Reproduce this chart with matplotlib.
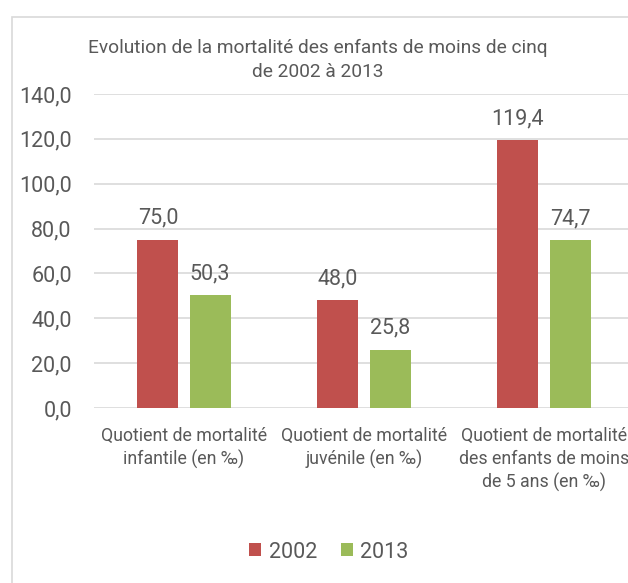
import matplotlib
matplotlib.use("Agg")
import matplotlib.pyplot as plt
from matplotlib.patches import Rectangle
import numpy as np

categories = ["Quotient de mortalité\ninfantile (en ‰)",
              "Quotient de mortalité\njuvénile (en ‰)",
              "Quotient de mortalité\ndes enfants de moins\nde 5 ans (en ‰)"]
series_names = ["2002", "2013"]
values_2002 = [75.0, 48.0, 119.4]
values_2013 = [50.3, 25.8, 74.7]
yticks = [0, 20, 40, 60, 80, 100, 120, 140]
title = "Evolution de la mortalité des enfants de moins de cinq\nde 2002 à 2013"

colors = ["#C0504D", "#9BBB59"]
txt = "#595959"
plt.rcParams['font.family'] = ['Roboto', 'DejaVu Sans']

W, H = 628, 583
fig = plt.figure(figsize=(W/100, H/100), dpi=100)
fig.patches.append(Rectangle((12/W, -0.1), 1.2, 1 - 17/H + 0.1, transform=fig.transFigure,
                             fill=False, edgecolor="#D9D9D9", linewidth=1.2))

left, right = 94/W, 634/W
bottom, top = 1 - 408/H, 1 - 94/H
ax = fig.add_axes([left, bottom, right - left, top - bottom])

x = np.arange(len(categories))
bw = 0.228
off = 0.145
b1 = ax.bar(x - off, values_2002, bw, color=colors[0], label=series_names[0])
b2 = ax.bar(x + off, values_2013, bw, color=colors[1], label=series_names[1])
for bars, vals in ((b1, values_2002), (b2, values_2013)):
    for r, v in zip(bars, vals):
        ax.text(r.get_x() + r.get_width()/2, v + 5, f"{v:.1f}".replace(".", ","),
                ha="center", va="bottom", fontsize=15.5, color=txt)

ax.set_xlim(-0.5, 2.5)
ax.set_ylim(0, 140)
ax.set_yticks(yticks)
ax.set_yticklabels([f"{t:.1f}".replace(".", ",") for t in yticks], fontsize=15.5, color=txt)
ax.set_xticks(x)
ax.set_xticklabels(categories, fontsize=12.8, color=txt, linespacing=1.32)
ax.tick_params(axis="x", length=0, pad=14)
ax.tick_params(axis="y", length=0, pad=16)
ax.grid(axis="y", color="#D9D9D9", linewidth=1.2)
ax.set_axisbelow(True)
for s in ax.spines.values():
    s.set_visible(False)

fig.text(318/W, 1 - 48/H, title.split("\n")[0], ha="center", va="center", fontsize=13.8, color=txt)
fig.text(318/W, 1 - 72/H, title.split("\n")[1], ha="center", va="center", fontsize=13.8, color=txt)

fig.legend(handles=[b1, b2], loc="center", bbox_to_anchor=(329/W, 1 - 552/H), ncol=2,
           frameon=False, fontsize=15.5, labelcolor=txt, handlelength=0.55, handleheight=0.55,
           handletextpad=0.35, columnspacing=1.1)

fig.savefig("out.png", dpi=100)
